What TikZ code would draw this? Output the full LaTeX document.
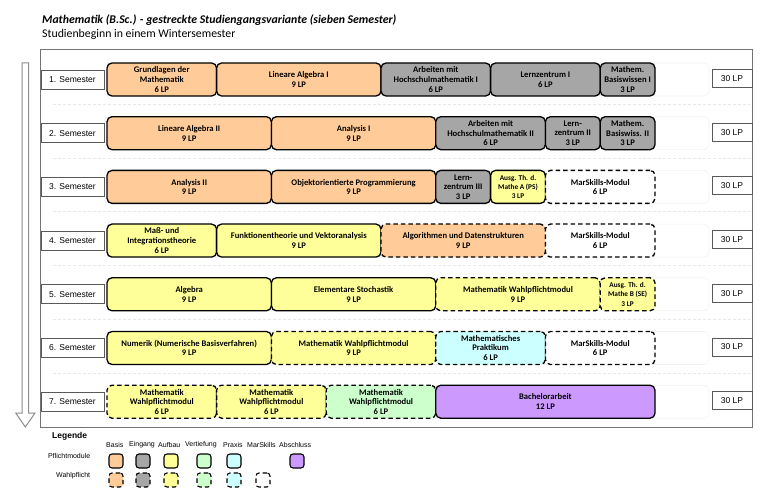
\documentclass[tikz,border=0pt]{standalone}
\usepackage{fontspec}
\setmainfont{Carlito}
\newfontfamily\arialf{Liberation Sans}
\definecolor{basis}{HTML}{FFCC99}
\definecolor{eingang}{HTML}{A6A6A6}
\definecolor{aufbau}{HTML}{FFFF99}
\definecolor{vertief}{HTML}{CCFFCC}
\definecolor{praxis}{HTML}{CCFFFF}
\definecolor{abschl}{HTML}{CC99FF}
\tikzset{
  modbox/.style={draw=black, line width=1.3pt, rounded corners=5pt, minimum height=33pt,
    inner sep=1pt, align=center, font=\fontsize{8.6}{9.6}\selectfont\bfseries},
  smallmod/.style={font=\fontsize{7.3}{9.3}\selectfont\bfseries},
  wp/.style={dash pattern=on 4.5pt off 3pt},
  semlabel/.style={draw=black!65, line width=0.8pt, fill=white, minimum width=63pt,
    minimum height=19pt, inner sep=0pt, font=\arialf\fontsize{8.5}{10}\selectfont},
  lplabel/.style={draw=black!65, line width=0.8pt, fill=white, minimum width=40pt,
    minimum height=18pt, inner sep=0pt, font=\arialf\fontsize{8.5}{10}\selectfont},
  rowbg/.style={draw=black!5, line width=0.6pt, rounded corners=5pt, fill=white},
  sepline/.style={draw=black!9, line width=0.8pt, dash pattern=on 3pt off 2pt},
  legsq/.style={draw=black, line width=1.1pt, rounded corners=3pt, minimum width=14pt,
    minimum height=14pt, inner sep=0pt},
  legtxt/.style={anchor=west, inner sep=0pt, font=\arialf\fontsize{7}{8}\selectfont},
}
\newcommand\modbox[6]{\node[modbox,#5,minimum width={(#3-#2)*18.2667pt}] (#1)
  at ({107+18.2667*(#2+#3)/2},{79.5+53.7*(#4-1)}) {#6};}
\begin{document}
\begin{tikzpicture}[x=1pt,y=-1pt]
\useasboundingbox (0,0) rectangle (768,502);
% title
\node[anchor=base west, inner sep=0pt, font=\fontsize{11.8}{14}\selectfont\bfseries\itshape] (title) at (42,24)
  {Mathematik (B.Sc.) - gestreckte Studiengangsvariante (sieben Semester)};
\node[anchor=base west, inner sep=0pt, font=\fontsize{11.8}{14}\selectfont] (subtitle) at (42,37.5)
  {Studienbeginn in einem Wintersemester};
% frame
\draw[black!55, line width=1pt] (40.7,50) rectangle (752.5,427.5);
% arrow
\draw[black!45, line width=1pt, fill=white]
  (22,63) -- (28.7,63) -- (28.7,413) -- (35,413) -- (25.35,427) -- (15.7,413) -- (22,413) -- cycle;
% separators
\foreach \i in {1,...,6} {
  \draw[sepline] (53,{104.5+53.7*(\i-1)}) -- (750,{104.5+53.7*(\i-1)});
}
% row backgrounds, semester labels, LP labels
\foreach \i in {1,...,7} {
  \draw[rowbg] (104,{63+53.7*(\i-1)}) rectangle (709,{96+53.7*(\i-1)});
  \node[semlabel] (s\i) at (72.5,{79.5+53.7*(\i-1)}) {\i. Semester};
  \node[lplabel] (lp\i) at (732,{78.5+53.7*(\i-1)}) {30 LP};
}
% row 1
\modbox{m11}{0}{6}{1}{fill=basis}{Grundlagen der\\Mathematik\\6 LP}
\modbox{m12}{6}{15}{1}{fill=basis}{Lineare Algebra I\\9 LP}
\modbox{m13}{15}{21}{1}{fill=eingang}{Arbeiten mit\\Hochschulmathematik I\\6 LP}
\modbox{m14}{21}{27}{1}{fill=eingang}{Lernzentrum I\\6 LP}
\modbox{m15}{27}{30}{1}{fill=eingang}{Mathem.\\Basiswissen I\\3 LP}
% row 2
\modbox{m21}{0}{9}{2}{fill=basis}{Lineare Algebra II\\9 LP}
\modbox{m22}{9}{18}{2}{fill=basis}{Analysis I\\9 LP}
\modbox{m23}{18}{24}{2}{fill=eingang}{Arbeiten mit\\Hochschulmathematik II\\6 LP}
\modbox{m24}{24}{27}{2}{fill=eingang}{Lern-\\zentrum II\\3 LP}
\modbox{m25}{27}{30}{2}{fill=eingang}{Mathem.\\Basiswiss. II\\3 LP}
% row 3
\modbox{m31}{0}{9}{3}{fill=basis}{Analysis II\\9 LP}
\modbox{m32}{9}{18}{3}{fill=basis}{Objektorientierte Programmierung\\9 LP}
\modbox{m33}{18}{21}{3}{fill=eingang}{Lern-\\zentrum III\\3 LP}
\modbox{m34}{21}{24}{3}{fill=aufbau,smallmod}{Ausg. Th. d.\\Mathe A (PS)\\3 LP}
\modbox{m35}{24}{30}{3}{fill=white,wp}{MarSkills-Modul\\6 LP}
% row 4
\modbox{m41}{0}{6}{4}{fill=aufbau}{Maß- und\\Integrationstheorie\\6 LP}
\modbox{m42}{6}{15}{4}{fill=aufbau}{Funktionentheorie und Vektoranalysis\\9 LP}
\modbox{m43}{15}{24}{4}{fill=basis,wp}{Algorithmen und Datenstrukturen\\9 LP}
\modbox{m44}{24}{30}{4}{fill=white,wp}{MarSkills-Modul\\6 LP}
% row 5
\modbox{m51}{0}{9}{5}{fill=aufbau}{Algebra\\9 LP}
\modbox{m52}{9}{18}{5}{fill=aufbau}{Elementare Stochastik\\9 LP}
\modbox{m53}{18}{27}{5}{fill=aufbau,wp}{Mathematik Wahlpflichtmodul\\9 LP}
\modbox{m54}{27}{30}{5}{fill=aufbau,wp,smallmod}{Ausg. Th. d.\\Mathe B (SE)\\3 LP}
% row 6
\modbox{m61}{0}{9}{6}{fill=aufbau}{Numerik (Numerische Basisverfahren)\\9 LP}
\modbox{m62}{9}{18}{6}{fill=aufbau,wp}{Mathematik Wahlpflichtmodul\\9 LP}
\modbox{m63}{18}{24}{6}{fill=praxis,wp}{Mathematisches\\Praktikum\\6 LP}
\modbox{m64}{24}{30}{6}{fill=white,wp}{MarSkills-Modul\\6 LP}
% row 7
\modbox{m71}{0}{6}{7}{fill=aufbau,wp}{Mathematik\\Wahlpflichtmodul\\6 LP}
\modbox{m72}{6}{12}{7}{fill=aufbau,wp}{Mathematik\\Wahlpflichtmodul\\6 LP}
\modbox{m73}{12}{18}{7}{fill=vertief,wp}{Mathematik\\Wahlpflichtmodul\\6 LP}
\modbox{m74}{18}{30}{7}{fill=abschl}{Bachelorarbeit\\12 LP}
% legend
\node[anchor=west, inner sep=0pt, font=\arialf\fontsize{8.5}{10}\selectfont\bfseries] (leg) at (52,436) {Legende};
\node[legtxt] (hPfl) at (48,456) {Pflichtmodule};
\node[legtxt] (hWp) at (56,476) {Wahlpflicht};
\node[legtxt] (h1) at (106,445) {Basis};
\node[legtxt] (h2) at (129,445) {Eingang};
\node[legtxt] (h3) at (158,445) {Aufbau};
\node[legtxt] (h4) at (185,445) {Vertiefung};
\node[legtxt] (h5) at (223,445) {Praxis};
\node[legtxt] (h6) at (247,445) {MarSkills};
\node[legtxt] (h7) at (279,445) {Abschluss};
\node[legsq, fill=basis] (p1) at (116,461) {};
\node[legsq, fill=eingang] (p2) at (143,461) {};
\node[legsq, fill=aufbau] (p3) at (171,461) {};
\node[legsq, fill=vertief] (p4) at (204,461) {};
\node[legsq, fill=praxis] (p5) at (234,461) {};
\node[legsq, fill=abschl] (p7) at (297,461) {};
\node[legsq, wp, fill=basis] (w1) at (116,480) {};
\node[legsq, wp, fill=eingang] (w2) at (143,480) {};
\node[legsq, wp, fill=aufbau] (w3) at (171,480) {};
\node[legsq, wp, fill=vertief] (w4) at (204,480) {};
\node[legsq, wp, fill=praxis] (w5) at (234,480) {};
\node[legsq, wp, fill=white] (w6) at (263,480) {};
\end{tikzpicture}
\end{document}
